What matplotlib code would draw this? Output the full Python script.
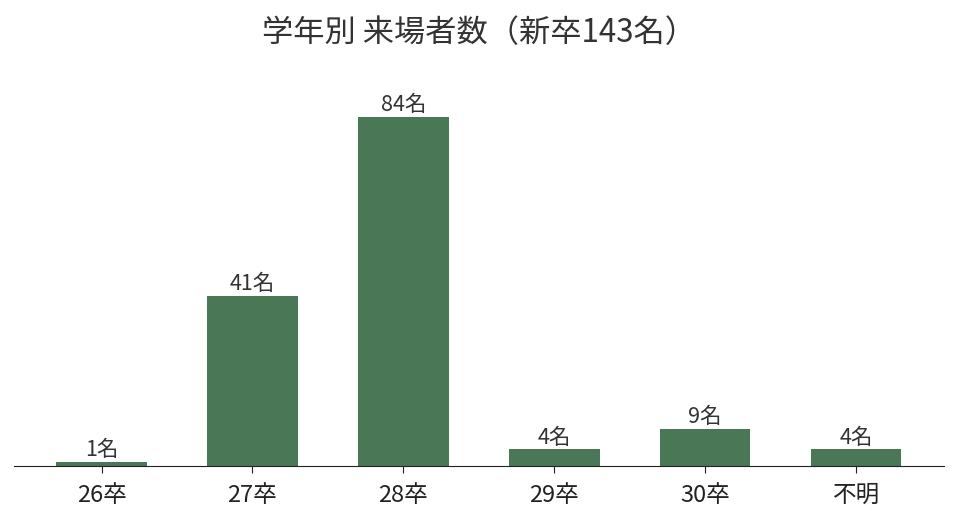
import matplotlib
matplotlib.use('Agg')
import matplotlib.pyplot as plt

plt.rcParams['font.family'] = ['Noto Sans CJK JP', 'DejaVu Sans']

grades = ['26卒', '27卒', '28卒', '29卒', '30卒', '不明']
counts = [1, 41, 84, 4, 9, 4]

fig = plt.figure(figsize=(9.58, 5.23), dpi=100)
ax = fig.add_axes([0.0146, 0.109, 0.9704, 0.701])
bars = ax.bar(grades, counts, width=0.6, color='#4a7856')
for b, c in zip(bars, counts):
    ax.text(b.get_x() + b.get_width() / 2, b.get_height() + 0.2, f'{c}名',
            ha='center', va='bottom', fontsize=15.5, color='#333333')

for s in ['top', 'right', 'left']:
    ax.spines[s].set_visible(False)
ax.spines['bottom'].set_color('#222222')
ax.set_yticks([])
ax.tick_params(axis='x', labelsize=17, colors='#222222', length=5, pad=8)
ax.set_ylim(0, 88.2)
fig.suptitle('学年別 来場者数（新卒143名）', fontsize=22.5, color='#333333', y=0.968)

fig.savefig('out.png', dpi=100)
